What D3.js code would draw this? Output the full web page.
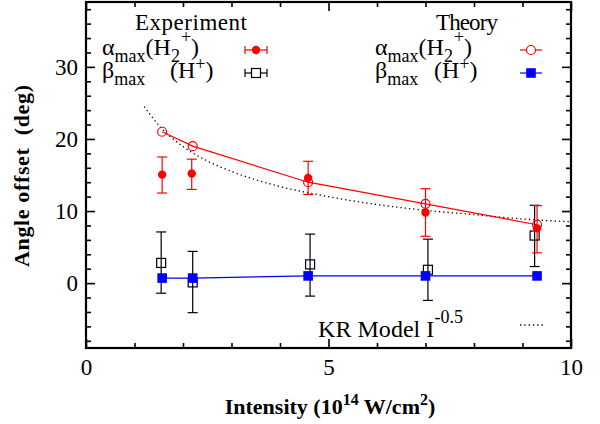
<!DOCTYPE html>
<html>
<head>
<meta charset="utf-8">
<script src="https://cdn.jsdelivr.net/npm/d3@7"></script>
<style>
  body { margin: 0; background: #fff; }
  svg text { font-family: "Liberation Serif", "Times New Roman", serif; fill: #000; white-space: pre; }
</style>
</head>
<body>
<svg id="chart" width="600" height="424"></svg>
<script>
// values (intensity in 1e14 W/cm^2, angle in deg)
var thX = [1.57, 2.2, 4.58, 7.0, 9.3];
var thAlpha = [21.0, 19.0, 14.0, 11.0, 8.1];
var thBeta = [0.7, 0.7, 1.0, 1.0, 1.0];

var expAlphaX = [1.57, 2.18, 4.58, 7.0, 9.3];
var expAlpha = [15.05, 15.2, 14.6, 9.8, 7.6];
var expAlphaLo = [12.5, 13.0, 12.3, 6.5, 4.2];
var expAlphaHi = [17.5, 17.2, 16.9, 13.1, 10.75];

var expBetaX = [1.55, 2.2, 4.62, 7.05, 9.25];
var expBeta = [2.8, 0.1, 2.6, 1.85, 6.6];
var expBetaLo = [-1.4, -4.1, -1.8, -2.4, 2.3];
var expBetaHi = [7.1, 4.4, 6.8, 6.1, 10.8];

// KR model curve, sampled from the dotted line
var krX = [1.2, 1.5, 2, 2.5, 3, 4, 5, 6, 7, 8, 9, 10];
var krY = [24.5, 21.9, 18.95, 16.95, 15.5, 13.4, 12.0, 10.9, 10.1, 9.5, 8.9, 8.5];

var xMajor = [0, 5, 10];
var xMinor = [1, 2, 3, 4, 6, 7, 8, 9];
var yMajor = [0, 10, 20, 30];
var yMinor = [-8, -6, -4, -2, 2, 4, 6, 8, 12, 14, 16, 18, 22, 24, 26, 28, 32, 34, 36, 38];

var mLeft = 86, mRight = 571, mTop = 2, mBottom = 348;

var svg = d3.select("#chart");
var x = d3.scaleLinear().domain([0, 10]).range([mLeft, mRight]);
var y = d3.scaleLinear().domain([-9, 39]).range([mBottom, mTop]);

function zip(xs, ys) { return xs.map(function(v, i) { return [v, ys[i]]; }); }

// axes with inward ticks
function axis(gen, pos, vals, size, labels) {
    var g = svg.append("g").attr("transform", pos)
        .call(gen.tickValues(vals).tickSizeInner(-size).tickSizeOuter(0)
            .tickFormat(labels ? d3.format("d") : ""));
    g.select(".domain").remove();
    g.selectAll("line").attr("stroke", "#000").attr("stroke-width", 1.6);
    g.selectAll("text").style("font-size", "23px").attr("font-family", null);
    return g;
}
axis(d3.axisBottom(x).tickPadding(11), "translate(0," + mBottom + ")", xMajor, 9, true);
axis(d3.axisBottom(x), "translate(0," + mBottom + ")", xMinor, 5, false);
axis(d3.axisTop(x), "translate(0," + mTop + ")", xMajor, 9, false);
axis(d3.axisTop(x), "translate(0," + mTop + ")", xMinor, 5, false);
axis(d3.axisLeft(y).tickPadding(8), "translate(" + mLeft + ",0)", yMajor, 9, true);
axis(d3.axisLeft(y), "translate(" + mLeft + ",0)", yMinor, 5, false);
axis(d3.axisRight(y), "translate(" + mRight + ",0)", yMajor, 9, false);
axis(d3.axisRight(y), "translate(" + mRight + ",0)", yMinor, 5, false);

svg.append("rect")
    .attr("x", mLeft).attr("y", mTop)
    .attr("width", mRight - mLeft).attr("height", mBottom - mTop)
    .attr("fill", "none").attr("stroke", "#000").attr("stroke-width", 2.2);

// axis titles
svg.append("text")
    .attr("x", 330).attr("y", 414)
    .attr("text-anchor", "middle")
    .style("font-size", "22px").style("font-weight", "bold")
    .html('Intensity (10<tspan dy="-9" font-size="16">14</tspan><tspan dy="9"> W/cm</tspan><tspan dy="-9" font-size="16">2</tspan><tspan dy="9">)</tspan>');

svg.append("text")
    .attr("transform", "translate(29,176) rotate(-90)")
    .attr("text-anchor", "middle")
    .attr("textLength", 182)
    .style("font-size", "22px").style("font-weight", "bold")
    .text("Angle offset  (deg)");

// KR model
var line = d3.line().x(function(d) { return x(d[0]); }).y(function(d) { return y(d[1]); });
svg.append("path")
    .datum(zip(krX, krY))
    .attr("d", line.curve(d3.curveMonotoneX))
    .attr("fill", "none").attr("stroke", "#000")
    .attr("stroke-width", 1.3).attr("stroke-dasharray", "1.3,3");
line.curve(d3.curveLinear);

// theory lines
svg.append("path").datum(zip(thX, thAlpha)).attr("d", line)
    .attr("fill", "none").attr("stroke", "#ff0000").attr("stroke-width", 1.2);
svg.append("path").datum(zip(thX, thBeta)).attr("d", line)
    .attr("fill", "none").attr("stroke", "#0000ff").attr("stroke-width", 1.2);

// error bars
function errorBars(xs, lo, hi, color) {
    var g = svg.append("g").attr("stroke", color).attr("stroke-width", 1.2);
    xs.forEach(function(v, i) {
        var cx = x(v);
        g.append("line").attr("x1", cx).attr("x2", cx).attr("y1", y(lo[i])).attr("y2", y(hi[i]));
        g.append("line").attr("x1", cx - 5).attr("x2", cx + 5).attr("y1", y(lo[i])).attr("y2", y(lo[i]));
        g.append("line").attr("x1", cx - 5).attr("x2", cx + 5).attr("y1", y(hi[i])).attr("y2", y(hi[i]));
    });
}
errorBars(expBetaX, expBetaLo, expBetaHi, "#000");
errorBars(expAlphaX, expAlphaLo, expAlphaHi, "#ff0000");

// markers
svg.selectAll(".expBeta").data(zip(expBetaX, expBeta)).enter().append("rect")
    .attr("x", function(d) { return x(d[0]) - 4.5; })
    .attr("y", function(d) { return y(d[1]) - 4.5; })
    .attr("width", 9).attr("height", 9)
    .attr("fill", "none").attr("stroke", "#000").attr("stroke-width", 1.2);

svg.selectAll(".thAlpha").data(zip(thX, thAlpha)).enter().append("circle")
    .attr("cx", function(d) { return x(d[0]); })
    .attr("cy", function(d) { return y(d[1]); })
    .attr("r", 4.5).attr("fill", "none").attr("stroke", "#ff0000").attr("stroke-width", 1.2);

svg.selectAll(".expAlpha").data(zip(expAlphaX, expAlpha)).enter().append("circle")
    .attr("cx", function(d) { return x(d[0]); })
    .attr("cy", function(d) { return y(d[1]); })
    .attr("r", 4.2).attr("fill", "#ff0000");

svg.selectAll(".thBeta").data(zip(thX, thBeta)).enter().append("rect")
    .attr("x", function(d) { return x(d[0]) - 4.8; })
    .attr("y", function(d) { return y(d[1]) - 4.8; })
    .attr("width", 9.6).attr("height", 9.6)
    .attr("fill", "#0000ff");

// legend
function label(px, py, html, anchor, size) {
    return svg.append("text").attr("x", px).attr("y", py)
        .attr("text-anchor", anchor || "start")
        .style("font-size", (size || 24) + "px").html(html);
}
var alphaTxt = '\u03b1<tspan dy="7" font-size="18">max</tspan><tspan dy="-7">(H</tspan><tspan dy="7" font-size="18">2</tspan><tspan dy="-19" dx="1" font-size="18">+</tspan><tspan dy="12">)</tspan>';
var betaTxt = '\u03b2<tspan dy="7" font-size="18">max</tspan>';
var hTxt = '(H<tspan dy="-8" font-size="18">+</tspan><tspan dy="8">)</tspan>';

label(191, 30, "Experiment", "middle", 23).attr("textLength", 112);
label(102, 55, alphaTxt);
label(102, 78, betaTxt);
label(170, 78, hTxt);

label(467, 30, "Theory", "middle", 23).attr("textLength", 62);
label(375, 55, alphaTxt);
label(375, 78, betaTxt);
label(434, 78, hTxt);

label(318, 337, 'KR Model I<tspan dy="-14" font-size="18">-0.5</tspan>').attr("textLength", 145);

// legend symbols
var lg = svg.append("g");
function hbar(cx, cy, color) {
    lg.append("line").attr("x1", cx - 11).attr("x2", cx + 11).attr("y1", cy).attr("y2", cy)
        .attr("stroke", color).attr("stroke-width", 1.2);
}
function hcaps(cx, cy, color) {
    [-11, 11].forEach(function(o) {
        lg.append("line").attr("x1", cx + o).attr("x2", cx + o).attr("y1", cy - 4).attr("y2", cy + 4)
            .attr("stroke", color).attr("stroke-width", 1.2);
    });
}
hbar(256, 50, "#ff0000"); hcaps(256, 50, "#ff0000");
lg.append("circle").attr("cx", 256).attr("cy", 50).attr("r", 4.2).attr("fill", "#ff0000");
hbar(256, 73, "#000"); hcaps(256, 73, "#000");
lg.append("rect").attr("x", 251.5).attr("y", 68.5).attr("width", 9).attr("height", 9)
    .attr("fill", "#fff").attr("stroke", "#000").attr("stroke-width", 1.2);

hbar(531, 50, "#ff0000");
lg.append("circle").attr("cx", 531).attr("cy", 50).attr("r", 4.5)
    .attr("fill", "#fff").attr("stroke", "#ff0000").attr("stroke-width", 1.2);
hbar(531, 73, "#0000ff");
lg.append("rect").attr("x", 526.2).attr("y", 68.2).attr("width", 9.6).attr("height", 9.6).attr("fill", "#0000ff");

lg.append("line").attr("x1", 520).attr("x2", 543).attr("y1", 325).attr("y2", 325)
    .attr("stroke", "#000").attr("stroke-width", 1.3).attr("stroke-dasharray", "1.3,3");
</script>
</body>
</html>
